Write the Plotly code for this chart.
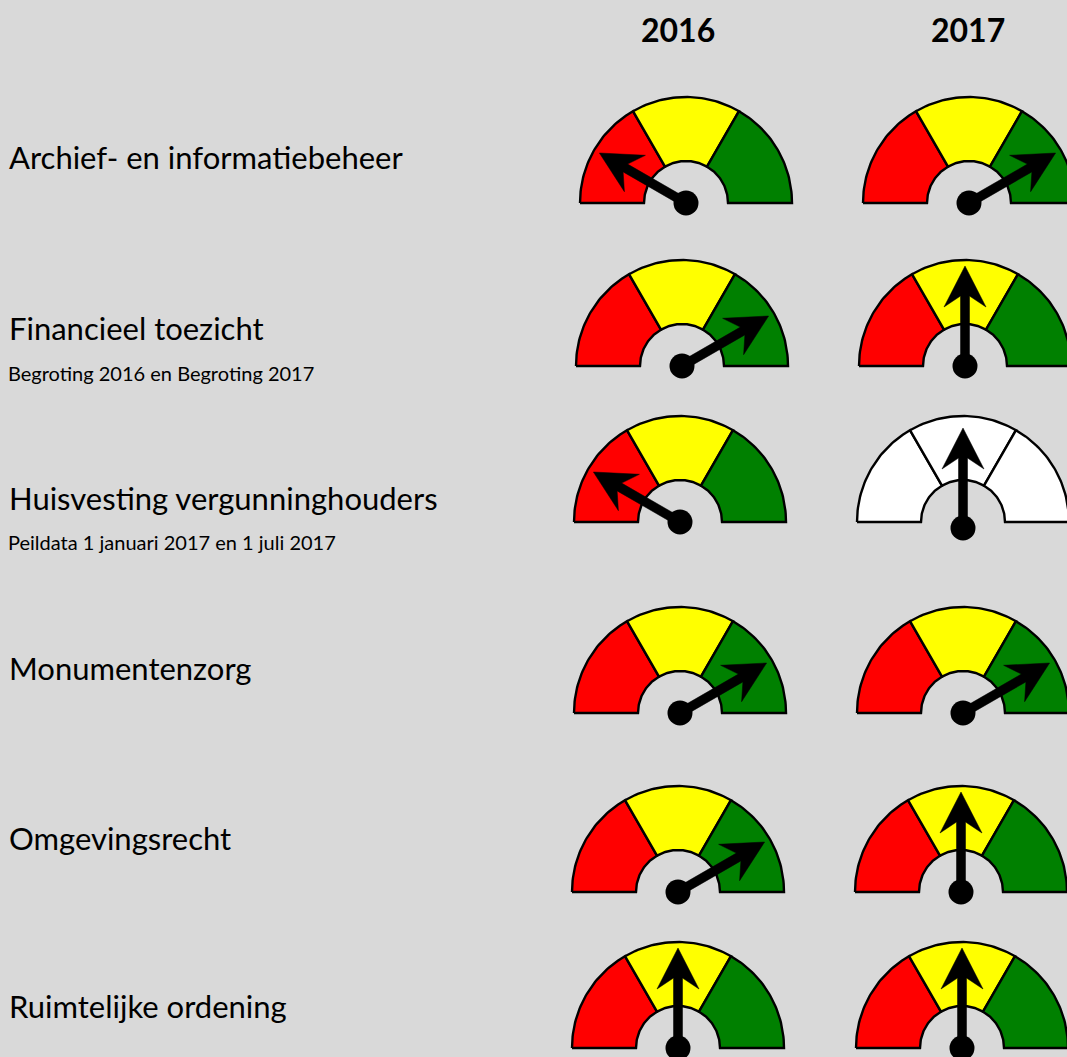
import numpy as np
import plotly.graph_objects as go

# ── data ──────────────────────────────────────────────────────────────────────
TOPICS = [
    "Archief- en informatiebeheer",
    "Financieel toezicht",
    "Huisvesting vergunninghouders",
    "Monumentenzorg",
    "Omgevingsrecht",
    "Ruimtelijke ordening",
]
SUBTITLES = [
    "",
    "Begroting 2016 en Begroting 2017",
    "Peildata 1 januari 2017 en 1 juli 2017",
    "",
    "",
    "",
]
YEARS = ["2016", "2017"]
# score on a 0-3 scale: 0-1 rood, 1-2 geel, 2-3 groen
SCORE_2016 = [0.5, 2.5, 0.5, 2.5, 2.5, 1.5]
SCORE_2017 = [2.5, 1.5, 1.5, 2.5, 1.5, 1.5]
RATED_2016 = [True, True, True, True, True, True]
RATED_2017 = [True, True, False, True, True, True]
ZONES = ["rood", "geel", "groen"]

ZONE_COLORS = {"rood": "#ff0000", "geel": "#ffff00", "groen": "#008000"}
BG = "#d9d9d9"
FONT = "Lato"

# ── layout (pixel positions) ──────────────────────────────────────────────────
W, H = 1067, 1057
ROW_BASE = [203, 366, 522, 713, 892, 1048]
COL_X = [[686, 969], [682, 965], [680, 963], [680, 963], [678, 961], [678, 962]]
HEAD_X = [678, 968]
LABEL_Y = [157, 328, 498, 668, 838, 1006]
SUB_Y = [None, 373, 542, None, None, None]
R_OUT, R_IN = 106, 42
NEEDLE_LEN, HEAD_LEN, HEAD_W, NOTCH, SHAFT_W = 100, 41, 21, 11, 4.5


def sector(cx, cy, a0, a1):
    t = np.radians(np.linspace(a0, a1, 40))
    xs = np.concatenate([cx + R_OUT * np.cos(t), cx + R_IN * np.cos(t[::-1])])
    ys = np.concatenate([cy - R_OUT * np.sin(t), cy - R_IN * np.sin(t[::-1])])
    return np.append(xs, xs[0]), np.append(ys, ys[0])


def needle(cx, cy, ang):
    a = np.radians(ang)
    ux, uy = np.cos(a), -np.sin(a)
    px, py = -uy, ux
    pts = [
        (-SHAFT_W, 0),
        (-SHAFT_W, NEEDLE_LEN - HEAD_LEN + NOTCH),
        (-HEAD_W, NEEDLE_LEN - HEAD_LEN),
        (0, NEEDLE_LEN),
        (HEAD_W, NEEDLE_LEN - HEAD_LEN),
        (SHAFT_W, NEEDLE_LEN - HEAD_LEN + NOTCH),
        (SHAFT_W, 0),
        (-SHAFT_W, 0),
    ]
    xs = [cx + s * px + d * ux for s, d in pts]
    ys = [cy + s * py + d * uy for s, d in pts]
    return xs, ys


fig = go.Figure()
scores = [SCORE_2016, SCORE_2017]
rated = [RATED_2016, RATED_2017]

for r in range(len(TOPICS)):
    cy = ROW_BASE[r]
    for c in range(len(YEARS)):
        cx = COL_X[r][c]
        for k, zone in enumerate(ZONES):
            a0 = 180 - 60 * k
            xs, ys = sector(cx, cy, a0, a0 - 60)
            fig.add_trace(go.Scatter(
                x=xs, y=ys, mode="lines", fill="toself",
                fillcolor=ZONE_COLORS[zone] if rated[c][r] else "#ffffff",
                line=dict(color="black", width=2.4),
                hoverinfo="skip", showlegend=False,
            ))
        ang = 180 - 60 * scores[c][r]
        dot_y = cy if rated[c][r] else cy + 6
        xs, ys = needle(cx, dot_y, ang)
        fig.add_trace(go.Scatter(
            x=xs, y=ys, mode="lines", fill="toself", fillcolor="black",
            line=dict(color="black", width=0.5),
            hoverinfo="skip", showlegend=False,
        ))
        fig.add_trace(go.Scatter(
            x=[cx], y=[dot_y], mode="markers",
            marker=dict(size=25, color="black"),
            hovertemplate=f"{TOPICS[r]} {YEARS[c]}: %{{customdata}}<extra></extra>",
            customdata=[ZONES[min(int(scores[c][r]), 2)] if rated[c][r] else "n.v.t."],
            showlegend=False,
        ))

annotations = []
for c, yr in enumerate(YEARS):
    annotations.append(dict(
        x=HEAD_X[c], y=29, text=f"<b>{yr}</b>", showarrow=False,
        xanchor="center", yanchor="middle",
        font=dict(family=FONT, size=32, color="black"),
    ))
for r, name in enumerate(TOPICS):
    annotations.append(dict(
        x=7, y=LABEL_Y[r], text=name, showarrow=False,
        xanchor="left", yanchor="middle",
        font=dict(family=FONT, size=31, color="black"),
    ))
    if SUBTITLES[r]:
        annotations.append(dict(
            x=6, y=SUB_Y[r], text=SUBTITLES[r], showarrow=False,
            xanchor="left", yanchor="middle",
            font=dict(family=FONT, size=20, color="black"),
        ))

fig.update_layout(
    width=W, height=H,
    margin=dict(l=0, r=0, t=0, b=0),
    paper_bgcolor=BG, plot_bgcolor=BG,
    xaxis=dict(range=[0, W], visible=False, fixedrange=True),
    yaxis=dict(range=[H, 0], visible=False, fixedrange=True),
    annotations=annotations,
    showlegend=False,
)
fig.write_html(
    "out.html",
    config={"displayModeBar": False},
    post_script="document.body.style.margin='0';document.body.style.overflow='hidden';"
                "document.body.style.background='" + BG + "';",
)
